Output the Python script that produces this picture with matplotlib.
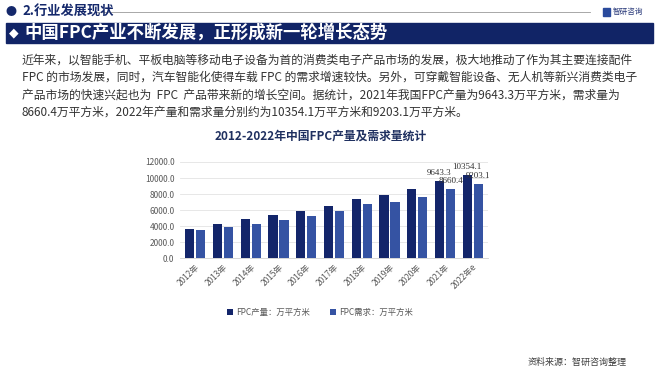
import matplotlib
matplotlib.use("Agg")
import matplotlib.pyplot as plt
from matplotlib.patches import Rectangle
import numpy as np

plt.rcParams['font.family'] = ['Noto Sans CJK SC', 'DejaVu Sans']

years = ["2012年", "2013年", "2014年", "2015年", "2016年", "2017年", "2018年",
         "2019年", "2020年", "2021年", "2022年e"]
production = [3625, 4290, 4870, 5375, 5950, 6540, 7410, 7950, 8660, 9643.3, 10354.1]
demand = [3500, 3950, 4290, 4750, 5330, 5950, 6750, 7040, 7700, 8660.4, 9203.1]
labeled_idx = [9, 10]
yticks = [0, 2000, 4000, 6000, 8000, 10000, 12000]

W, H = 660, 372
fig = plt.figure(figsize=(W / 100, H / 100), dpi=100)
fig.patch.set_facecolor("white")

def fx(x):
    return x / W

def fy(y):
    return 1 - y / H

navy = "#14286b"
prod_c = "#13256a"
dem_c = "#3553a3"

# Header
fig.text(fx(6), fy(12), "●", color=navy, fontsize=8, va="center", ha="left")
fig.text(fx(22), fy(12), "2.行业发展现状", color=navy, fontsize=9.5,
         fontweight="bold", va="center", ha="left")
fig.add_artist(plt.Line2D([fx(96), fx(590)], [fy(12), fy(12)], color="#9a9a9a", lw=0.6))
fig.add_artist(Rectangle((fx(603), fy(16)), 7 / W, 8 / H, color="#2a4a9c"))
fig.text(fx(613), fy(12), "智研咨询", color="#2a3a7a", fontsize=5.5, va="center", ha="left")

# Banner
fig.add_artist(Rectangle((fx(6), fy(43)), 647 / W, 20 / H, color="#112466", zorder=0))
fig.text(fx(9), fy(33), "◆", color="white", fontsize=9, va="center", ha="left",
         family=['DejaVu Sans'])
fig.text(fx(24), fy(33), "中国FPC产业不断发展，正形成新一轮增长态势", color="white",
         fontsize=12.5, fontweight="bold", va="center", ha="left")

# Paragraph
para = [
    "近年来，以智能手机、平板电脑等移动电子设备为首的消费类电子产品市场的发展，极大地推动了作为其主要连接配件",
    "FPC 的市场发展，同时，汽车智能化使得车载 FPC 的需求增速较快。另外，可穿戴智能设备、无人机等新兴消费类电子",
    "产品市场的快速兴起也为  FPC  产品带来新的增长空间。据统计，2021年我国FPC产量为9643.3万平方米，需求量为",
    "8660.4万平方米，2022年产量和需求量分别约为10354.1万平方米和9203.1万平方米。",
]
for i, line in enumerate(para):
    fig.text(fx(22), fy(60 + i * 17.5), line, color="#333333", fontsize=8.5,
             va="center", ha="left")

# Chart title
fig.text(fx(321), fy(136), "2012-2022年中国FPC产量及需求量统计", color="#1f3060",
         fontsize=8.5, fontweight="bold", va="center", ha="center")

# Axes
ax = fig.add_axes([fx(180), fy(258.3), (488 - 180) / W, (258.3 - 162) / H])
x = np.arange(len(years))
bw = 0.33
gap = 0.035
b1 = ax.bar(x - bw / 2 - gap, production, width=bw, color=prod_c, zorder=3,
            label="FPC产量：万平方米")
b2 = ax.bar(x + bw / 2 + gap, demand, width=bw, color=dem_c, zorder=3,
            label="FPC需求：万平方米")
for i in labeled_idx:
    ax.annotate(f"{production[i]:.1f}", (x[i] - bw / 2 - gap, production[i]),
                xytext=(0, 3), textcoords="offset points", ha="center", va="bottom",
                fontsize=6.5, family=['Liberation Serif'], color="#333333")
    ax.annotate(f"{demand[i]:.1f}", (x[i] + bw / 2 + gap, demand[i]),
                xytext=(0, 3), textcoords="offset points", ha="center", va="bottom",
                fontsize=6.5, family=['Liberation Serif'], color="#333333")

ax.set_ylim(0, 12000)
ax.set_xlim(-0.55, len(years) - 0.45)
ax.set_yticks(yticks)
ax.set_yticklabels([f"{v:.1f}" for v in yticks], fontsize=6, color="#595959")
ax.set_xticks(x)
ax.set_xticklabels(years, rotation=45, ha="right", rotation_mode="anchor",
                   fontsize=6, color="#595959")
ax.yaxis.grid(True, color="#e3e3e3", lw=0.6, zorder=0)
for s in ["top", "right", "left"]:
    ax.spines[s].set_visible(False)
ax.spines["bottom"].set_color("#d0d0d0")
ax.spines["bottom"].set_linewidth(0.6)
ax.tick_params(axis="both", length=0, pad=4)
ax.tick_params(axis="x", pad=3)
ax.set_facecolor("none")

fig.legend(handles=[b1, b2], loc="center", bbox_to_anchor=(fx(320), fy(312)), ncol=2,
           frameon=False, fontsize=6, handlelength=0.7, handleheight=0.7,
           handletextpad=0.3, columnspacing=2.5, labelcolor="#595959")

# Source
fig.text(fx(627), fy(362), "资料来源：智研咨询整理", color="#404040", fontsize=6.5,
         va="center", ha="right")

fig.savefig("out.png", dpi=100)
